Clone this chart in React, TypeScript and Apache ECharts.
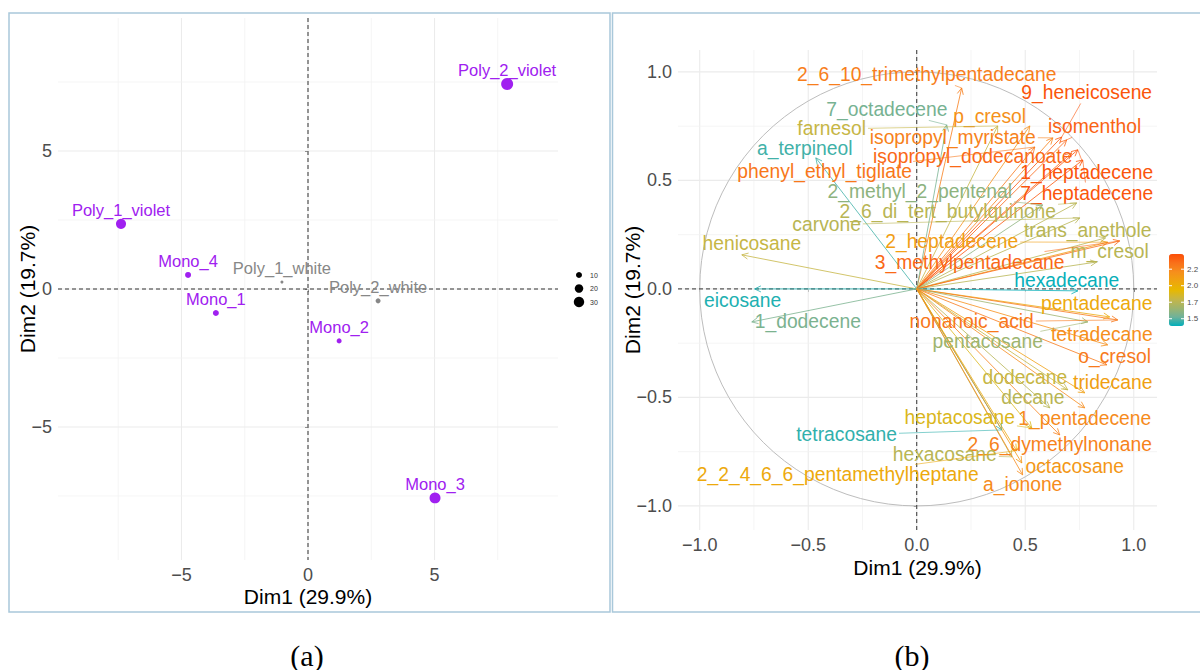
import React, { useEffect, useRef } from "react";
import * as echarts from "echarts";

// ---------- Panel (a): individuals ----------
const indNames = ["Poly_2_violet", "Poly_1_violet", "Mono_4", "Mono_1", "Poly_1_white", "Poly_2_white", "Mono_2", "Mono_3"];
const indGroup = ["violet", "violet", "violet", "violet", "white", "white", "violet", "violet"];
const indDim1 = [7.87, -7.39, -4.74, -3.64, -1.03, 2.77, 1.23, 5.02];
const indDim2 = [7.43, 2.36, 0.51, -0.87, 0.25, -0.43, -1.88, -7.57];
const indContrib = [40, 28, 10, 10, 2.5, 7, 7, 33];
const sizeLegendValues = [10, 20, 30];
const indTicks = [-5, 0, 5];
const indMinor = [-7.5, -2.5, 2.5, 7.5];

// ---------- Panel (b): variables ----------
const varNames = [
  "2_6_10_trimethylpentadecane", "9_heneicosene", "7_octadecene", "p_cresol", "farnesol",
  "isopropyl_myristate", "isomenthol", "a_terpineol", "isopropyl_dodecanoate", "phenyl_ethyl_tigliate",
  "1_heptadecene", "7_heptadecene", "2_methyl_2_pentenal", "2_6_di_tert_butylquinone", "carvone",
  "trans_anethole", "henicosane", "2_heptadecene", "m_cresol", "3_methylpentadecane",
  "hexadecane", "eicosane", "pentadecane", "1_dodecene", "nonanoic_acid",
  "tetradecane", "pentacosane", "o_cresol", "dodecane", "tridecane",
  "decane", "heptacosane", "1_pentadecene", "tetracosane", "2_6_dymethylnonane",
  "hexacosane", "octacosane", "2_2_4_6_6_pentamethylheptane", "a_ionone",
];
const varDim1 = [
  0.207, 0.668, 0.138, 0.521, 0.373,
  0.627, 0.691, -0.465, 0.714, 0.544,
  0.742, 0.765, 0.58, 0.737, 0.751,
  0.87, -0.806, 0.88, 0.829, 0.935,
  0.742, -0.747, 0.889, -0.76, 0.926,
  0.88, 0.788, 0.876, 0.696, 0.774,
  0.613, 0.53, 0.774, 0.392, 0.659,
  0.438, 0.484, 0.46, 0.488,
];
const varDim2 = [
  0.926, 0.7, 0.756, 0.751, 0.751,
  0.696, 0.687, 0.604, 0.627, 0.654,
  0.641, 0.594, 0.387, 0.396, 0.327,
  0.235, 0.157, 0.215, 0.124, 0.221,
  -0.009, 0.0, -0.129, -0.152, -0.143,
  -0.258, -0.152, -0.35, -0.465, -0.479,
  -0.548, -0.641, -0.548, -0.65, -0.673,
  -0.774, -0.802, -0.745, -0.857,
];
// repelled label centres (data units)
const varLabelX = [
  0.046, 0.783, -0.138, 0.336, -0.392,
  0.166, 0.82, -0.516, 0.258, -0.424,
  0.783, 0.783, 0.014, 0.143, -0.415,
  0.788, -0.76, 0.161, 0.889, 0.244,
  0.691, -0.802, 0.829, -0.502, 0.253,
  0.853, 0.327, 0.912, 0.498, 0.903,
  0.535, 0.198, 0.774, -0.323, 0.659,
  0.129, 0.728, -0.364, 0.488,
];
const varLabelY = [
  0.986, 0.903, 0.825, 0.793, 0.737,
  0.7, 0.747, 0.645, 0.608, 0.539,
  0.535, 0.442, 0.447, 0.355, 0.295,
  0.267, 0.207, 0.217, 0.171, 0.124,
  0.037, -0.055, -0.069, -0.152, -0.152,
  -0.212, -0.244, -0.313, -0.41, -0.429,
  -0.502, -0.594, -0.599, -0.673, -0.719,
  -0.765, -0.82, -0.857, -0.903,
];
const varContrib = [
  2.28, 2.45, 1.55, 2.19, 1.8,
  2.26, 2.39, 1.47, 2.37, 2.31,
  2.45, 2.45, 1.61, 1.75, 1.75,
  1.75, 1.8, 2.11, 1.75, 2.37,
  1.4, 1.43, 2.04, 1.56, 2.31,
  2.2, 1.66, 2.3, 1.8, 2.1,
  1.75, 1.88, 2.22, 1.45, 2.26,
  1.75, 2.15, 2.04, 2.22,
];
const varTicks = [-1, -0.5, 0, 0.5, 1];
const varMinor = [-0.75, -0.25, 0.25, 0.75];
const contribMin = 1.39;
const contribMax = 2.48;
const contribTicks = [2.25, 2.0, 1.75, 1.5];
const contribTickLabels = ["2.2", "2.0", "1.7", "1.5"];

const FONT = '"Liberation Sans", Arial, Helvetica, sans-serif';
const SERIF = '"Liberation Serif", "DejaVu Serif", serif';
const VAR_FS = 19.3;
const gradientColors = ["#00AFBB", "#6FB29A", "#9FB46D", "#C6B646", "#E7B800", "#EFA40F", "#F68E1C", "#F9701A", "#FC4E07"];
const groupColors: Record<string, string> = { violet: "#A020F0", white: "#878787" };

function sizeOf(v: number) {
  return 1.9 * Math.sqrt(v);
}
function fmt(d: number) {
  return (v: number) => (v < 0 ? "\u2212" : "") + Math.abs(v).toFixed(d);
}

export default function App() {
  const ref = useRef<HTMLDivElement>(null);
  useEffect(() => {
    const chart = echarts.init(ref.current!, null, { renderer: "svg" });
    const ctx = document.createElement("canvas").getContext("2d")!;
    ctx.font = `${VAR_FS}px ${FONT}`;

    const mkAxis = (ticks: number[], d: number, min: number, max: number, gridIndex: number, name: string, nameGap: number) => ({
      type: "value",
      gridIndex,
      min,
      max,
      name,
      nameLocation: "middle",
      nameGap,
      nameMoveOverlap: false,
      nameTextStyle: { color: "#000", fontSize: 21, fontFamily: FONT },
      axisLine: { show: false },
      splitLine: { show: false },
      axisTick: { show: true, customValues: ticks, length: 3, lineStyle: { color: "#333", width: 1 } },
      axisLabel: { customValues: ticks, formatter: fmt(d), color: "#4D4D4D", fontSize: 18, margin: 6, fontFamily: FONT },
    });

    const gridData = (ticks: number[], minor: number[]) => [
      ...ticks.map((v) => [v, 0, 0]),
      ...minor.map((v) => [v, 0, 1]),
      ...ticks.map((v) => [0, v, 2]),
      ...minor.map((v) => [0, v, 3]),
    ];
    const gridRender = (params: any, api: any) => {
      const cs = params.coordSys;
      const kind = api.value(2);
      const p = api.coord([api.value(0), api.value(1)]);
      const major = kind === 0 || kind === 2;
      const style = { stroke: major ? "#EBEBEB" : "#F3F3F3", lineWidth: major ? 1.1 : 0.8 };
      if (kind < 2) return { type: "line", shape: { x1: p[0], y1: cs.y, x2: p[0], y2: cs.y + cs.height }, style };
      return { type: "line", shape: { x1: cs.x, y1: p[1], x2: cs.x + cs.width, y2: p[1] }, style };
    };
    const zeroRender = (params: any, api: any) => {
      const cs = params.coordSys;
      const o = api.coord([0, 0]);
      const style = { stroke: "#333", lineWidth: 1, lineDash: [4, 3] };
      return {
        type: "group",
        children: [
          { type: "line", shape: { x1: o[0], y1: cs.y, x2: o[0], y2: cs.y + cs.height }, style },
          { type: "line", shape: { x1: cs.x, y1: o[1], x2: cs.x + cs.width, y2: o[1] }, style },
        ],
      };
    };

    const scatterFor = (g: string) => ({
      type: "scatter",
      xAxisIndex: 0,
      yAxisIndex: 0,
      z: 4,
      itemStyle: { color: groupColors[g], opacity: 1 },
      symbolSize: (val: number[]) => sizeOf(val[2]),
      data: indNames
        .map((n, i) => ({ name: n, value: [indDim1[i], indDim2[i], indContrib[i]], g: indGroup[i] }))
        .filter((d) => d.g === g)
        .map((d) => ({ name: d.name, value: d.value })),
      label: {
        show: true,
        formatter: "{b}",
        position: "inside",
        offset: [0, -14],
        color: groupColors[g],
        fontSize: 16.5,
        fontFamily: FONT,
      },
      emphasis: { disabled: true },
    });

    const varData = varNames.map((_, i) => [varDim1[i], varDim2[i], varLabelX[i], varLabelY[i], varContrib[i]]);

    const arrowRender = (params: any, api: any) => {
      const o = api.coord([0, 0]);
      const t = api.coord([api.value(0), api.value(1)]);
      const color = api.visual("color");
      const ang = Math.atan2(t[1] - o[1], t[0] - o[0]);
      const L = 7;
      const A = Math.PI / 7;
      const p1 = [t[0] - L * Math.cos(ang - A), t[1] - L * Math.sin(ang - A)];
      const p2 = [t[0] - L * Math.cos(ang + A), t[1] - L * Math.sin(ang + A)];
      return {
        type: "group",
        children: [
          { type: "line", shape: { x1: o[0], y1: o[1], x2: t[0], y2: t[1] }, style: { stroke: color, lineWidth: 0.8 } },
          { type: "polyline", shape: { points: [p1, t, p2] }, style: { stroke: color, fill: null, lineWidth: 0.8 } },
        ],
      };
    };

    const labelRender = (params: any, api: any) => {
      const i = params.dataIndex;
      const name = varNames[i];
      const t = api.coord([api.value(0), api.value(1)]);
      const c = api.coord([api.value(2), api.value(3)]);
      const color = api.visual("color");
      const w = ctx.measureText(name).width;
      const hw = w / 2 + 2;
      const hh = 10.5;
      const dx = t[0] - c[0];
      const dy = t[1] - c[1];
      const children: any[] = [];
      const s = Math.min(dx !== 0 ? hw / Math.abs(dx) : Infinity, dy !== 0 ? hh / Math.abs(dy) : Infinity);
      if (s < 1) {
        const sx = c[0] + dx * s;
        const sy = c[1] + dy * s;
        if (Math.hypot(t[0] - sx, t[1] - sy) > 4) {
          children.push({ type: "line", shape: { x1: sx, y1: sy, x2: t[0], y2: t[1] }, style: { stroke: color, lineWidth: 0.6 } });
        }
      }
      children.push({
        type: "text",
        x: c[0],
        y: c[1],
        style: { text: name, fill: color, fontSize: VAR_FS, fontFamily: FONT, align: "center", verticalAlign: "middle" },
      });
      return { type: "group", children };
    };

    const circleRender = (params: any, api: any) => {
      const o = api.coord([api.value(0), api.value(1)]);
      const sz = api.size([api.value(2), api.value(2)]);
      return {
        type: "circle",
        shape: { cx: o[0], cy: o[1], r: (sz[0] + sz[1]) / 2 },
        style: { stroke: "#BDBDBD", fill: null, lineWidth: 1 },
      };
    };

    // colour bar geometry
    const cbX = 1169, cbY = 254, cbW = 15, cbH = 72;
    const cbPos = (v: number) => cbY + ((contribMax - v) / (contribMax - contribMin)) * cbH;

    const graphic: any[] = [
      { type: "rect", shape: { x: 9, y: 13, width: 601, height: 599 }, style: { stroke: "#A9C8DA", fill: null, lineWidth: 1.5 }, silent: true },
      { type: "rect", shape: { x: 612.5, y: 13, width: 620, height: 599 }, style: { stroke: "#A9C8DA", fill: null, lineWidth: 1.5 }, silent: true },
      { type: "text", x: 307, y: 655, style: { text: "(a)", fontSize: 30, fontFamily: SERIF, fill: "#000", align: "center", verticalAlign: "middle" } },
      { type: "text", x: 912, y: 655, style: { text: "(b)", fontSize: 30, fontFamily: SERIF, fill: "#000", align: "center", verticalAlign: "middle" } },
    ];
    sizeLegendValues.forEach((v, k) => {
      const cy = 275 + k * 13.5;
      graphic.push({ type: "circle", shape: { cx: 579, cy, r: sizeOf(v) / 2 }, style: { fill: "#000" } });
      graphic.push({ type: "text", x: 590, y: cy, style: { text: String(v), fontSize: 7, fontFamily: FONT, fill: "#333", align: "left", verticalAlign: "middle" } });
    });
    contribTicks.forEach((v, k) => {
      const y = cbPos(v);
      graphic.push({ type: "line", shape: { x1: cbX, y1: y, x2: cbX + 3, y2: y }, style: { stroke: "#fff", lineWidth: 1 }, z: 100 });
      graphic.push({ type: "line", shape: { x1: cbX + cbW - 3, y1: y, x2: cbX + cbW, y2: y }, style: { stroke: "#fff", lineWidth: 1 }, z: 100 });
      graphic.push({ type: "text", x: cbX + cbW + 3, y, style: { text: contribTickLabels[k], fontSize: 8, fontFamily: FONT, fill: "#4D4D4D", align: "left", verticalAlign: "middle" } });
    });

    const option: any = {
      animation: false,
      backgroundColor: "#fff",
      textStyle: { fontFamily: FONT },
      grid: [
        { left: 58, top: 18, width: 500, height: 542, containLabel: false, outerBoundsMode: "none" },
        { left: 678, top: 50, width: 479, height: 480, containLabel: false, outerBoundsMode: "none" },
      ],
      xAxis: [
        mkAxis(indTicks, 0, -9.88, 9.88, 0, "Dim1 (29.9%)", 26),
        mkAxis(varTicks, 1, -1.1, 1.107, 1, "Dim1 (29.9%)", 27),
      ],
      yAxis: [
        mkAxis(indTicks, 0, -9.82, 9.82, 0, "Dim2 (19.7%)", 20),
        mkAxis(varTicks, 1, -1.111, 1.101, 1, "Dim2 (19.7%)", 35),
      ],
      visualMap: {
        type: "continuous",
        min: contribMin,
        max: contribMax,
        dimension: 4,
        seriesIndex: [7, 8],
        inRange: { color: gradientColors },
        calculable: false,
        show: true,
        left: cbX,
        top: cbY,
        itemWidth: cbW,
        itemHeight: cbH,
        padding: 0,
        text: null,
        hoverLink: false,
        orient: "vertical",
      },
      graphic,
      series: [
        { type: "custom", xAxisIndex: 0, yAxisIndex: 0, z: 1, silent: true, data: gridData(indTicks, indMinor), encode: { x: 0, y: 1 }, renderItem: gridRender },
        { type: "custom", xAxisIndex: 0, yAxisIndex: 0, z: 2, silent: true, data: [[0, 0]], encode: { x: 0, y: 1 }, renderItem: zeroRender },
        scatterFor("violet"),
        scatterFor("white"),
        { type: "custom", xAxisIndex: 1, yAxisIndex: 1, z: 1, silent: true, data: gridData(varTicks, varMinor), encode: { x: 0, y: 1 }, renderItem: gridRender },
        { type: "custom", xAxisIndex: 1, yAxisIndex: 1, z: 2, silent: true, data: [[0, 0, 1]], encode: { x: 0, y: 1 }, renderItem: circleRender },
        { type: "custom", xAxisIndex: 1, yAxisIndex: 1, z: 2, silent: true, data: [[0, 0]], encode: { x: 0, y: 1 }, renderItem: zeroRender },
        { type: "custom", xAxisIndex: 1, yAxisIndex: 1, z: 3, silent: true, data: varData, encode: { x: 0, y: 1 }, renderItem: arrowRender },
        { type: "custom", xAxisIndex: 1, yAxisIndex: 1, z: 4, silent: true, data: varData, encode: { x: 0, y: 1 }, renderItem: labelRender },
      ],
    };
    chart.setOption(option);
    return () => chart.dispose();
  }, []);
  return <div ref={ref} style={{ position: "fixed", left: 0, top: 0, width: 1200, height: 670, background: "#fff" }} />;
}
